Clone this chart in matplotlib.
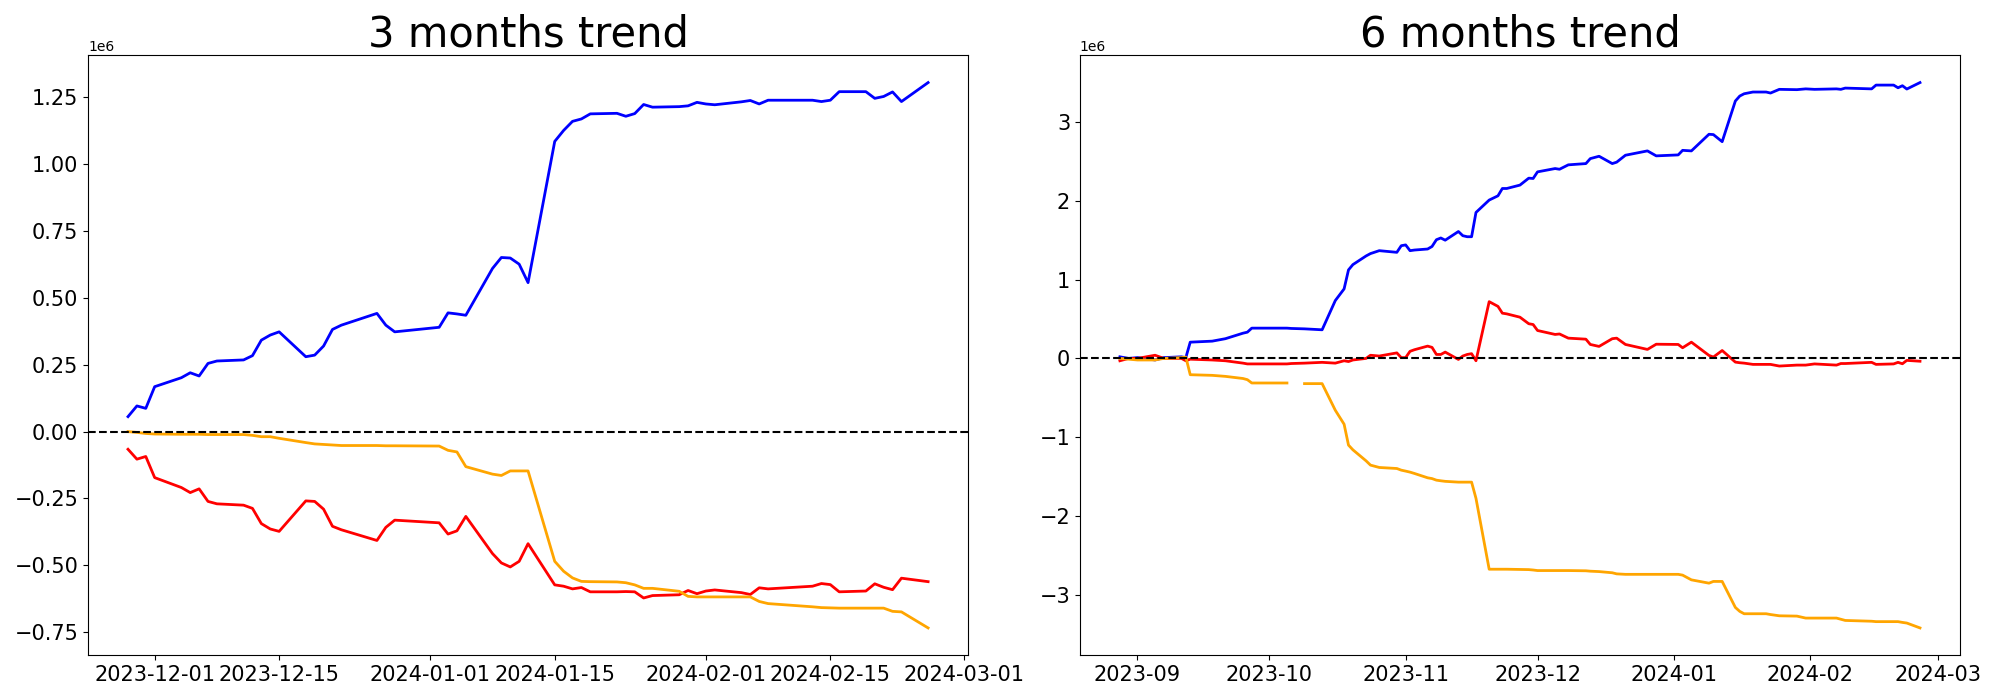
import numpy as np
import pandas as pd
import matplotlib
matplotlib.use("Agg")
import matplotlib.pyplot as plt

# ---- 3 months ----
dates_3m = pd.to_datetime([
    "2023-11-28", "2023-11-29", "2023-11-30",
    "2023-12-01", "2023-12-04", "2023-12-05", "2023-12-06", "2023-12-07", "2023-12-08",
    "2023-12-11", "2023-12-12", "2023-12-13", "2023-12-14", "2023-12-15",
    "2023-12-18", "2023-12-19", "2023-12-20", "2023-12-21", "2023-12-22",
    "2023-12-26", "2023-12-27", "2023-12-28",
    "2024-01-02", "2024-01-03", "2024-01-04", "2024-01-05",
    "2024-01-08", "2024-01-09", "2024-01-10", "2024-01-11", "2024-01-12",
    "2024-01-15", "2024-01-16", "2024-01-17", "2024-01-18", "2024-01-19",
    "2024-01-22", "2024-01-23", "2024-01-24", "2024-01-25", "2024-01-26",
    "2024-01-29", "2024-01-30", "2024-01-31", "2024-02-01", "2024-02-02",
    "2024-02-05", "2024-02-06", "2024-02-07", "2024-02-08",
    "2024-02-13", "2024-02-14", "2024-02-15", "2024-02-16",
    "2024-02-19", "2024-02-20", "2024-02-21", "2024-02-22", "2024-02-23",
    "2024-02-26",
])
blue_3m = [0.056, 0.096, 0.087,
           0.168, 0.2015, 0.22, 0.208, 0.255, 0.264, 0.268, 0.284, 0.342, 0.361, 0.373,
           0.28, 0.286, 0.32, 0.382, 0.398, 0.442, 0.398, 0.373,
           0.39, 0.444, 0.44, 0.435, 0.61, 0.651, 0.649, 0.626, 0.557,
           1.085, 1.126, 1.16, 1.169, 1.188, 1.19, 1.179, 1.189, 1.223, 1.213,
           1.215, 1.218, 1.231,
           1.225, 1.222, 1.233, 1.238, 1.225, 1.239, 1.239, 1.234, 1.239, 1.271,
           1.271, 1.246, 1.253, 1.27, 1.234, 1.305]
red_3m = [-0.066, -0.103, -0.093,
          -0.172, -0.209, -0.228, -0.214, -0.261, -0.27, -0.275, -0.287, -0.344, -0.364, -0.373,
          -0.259, -0.261, -0.29, -0.354, -0.367, -0.407, -0.358, -0.331,
          -0.341, -0.383, -0.371, -0.317, -0.456, -0.491, -0.506, -0.485, -0.419,
          -0.573, -0.578, -0.588, -0.583, -0.599, -0.599, -0.598, -0.599, -0.622, -0.613,
          -0.61, -0.594, -0.606,
          -0.596, -0.592, -0.602, -0.609, -0.584, -0.588, -0.578, -0.568, -0.572, -0.599,
          -0.596, -0.569, -0.582, -0.591, -0.548, -0.561]
orange_3m = [0.0, -0.003, -0.007,
             -0.009, -0.010, -0.010, -0.010, -0.011, -0.011, -0.011, -0.014, -0.019, -0.019, -0.025,
             -0.041, -0.046, -0.048, -0.050, -0.052, -0.052, -0.053, -0.053,
             -0.054, -0.07, -0.076, -0.131, -0.159, -0.164, -0.147, -0.147, -0.147,
             -0.485, -0.522, -0.547, -0.56, -0.561, -0.562, -0.565, -0.573, -0.586, -0.586,
             -0.597, -0.616, -0.618,
             -0.618, -0.618, -0.618, -0.618, -0.635, -0.643, -0.655, -0.658, -0.659, -0.66,
             -0.66, -0.66, -0.66, -0.672, -0.674, -0.734]

# ---- 6 months ----
dates_6m = pd.to_datetime([
    "2023-08-28", "2023-08-30", "2023-09-01", "2023-09-05", "2023-09-07",
    "2023-09-11", "2023-09-12", "2023-09-13", "2023-09-18", "2023-09-21",
    "2023-09-25", "2023-09-26", "2023-09-27", "2023-10-05", "2023-10-06",
    "2023-10-09", "2023-10-13", "2023-10-16", "2023-10-18", "2023-10-19",
    "2023-10-20", "2023-10-23", "2023-10-24", "2023-10-26", "2023-10-30",
    "2023-10-31", "2023-11-01", "2023-11-02", "2023-11-03", "2023-11-06",
    "2023-11-07", "2023-11-08", "2023-11-09", "2023-11-10", "2023-11-13",
    "2023-11-14", "2023-11-15", "2023-11-16", "2023-11-17", "2023-11-20",
    "2023-11-22", "2023-11-23", "2023-11-24", "2023-11-27", "2023-11-29",
    "2023-11-30", "2023-12-01", "2023-12-05", "2023-12-06", "2023-12-08",
    "2023-12-12", "2023-12-13", "2023-12-15", "2023-12-18", "2023-12-19",
    "2023-12-21", "2023-12-26", "2023-12-28", "2024-01-02", "2024-01-03",
    "2024-01-05", "2024-01-09", "2024-01-10", "2024-01-12", "2024-01-15",
    "2024-01-16", "2024-01-17", "2024-01-19", "2024-01-22", "2024-01-23",
    "2024-01-25", "2024-01-29", "2024-01-31", "2024-02-02", "2024-02-07",
    "2024-02-08", "2024-02-09", "2024-02-15", "2024-02-16", "2024-02-20",
    "2024-02-21", "2024-02-22", "2024-02-23", "2024-02-26",
])
blue_6m = [0.02, 0.0, 0.01, -0.02, 0.01,
           0.02, 0.01, 0.206, 0.219, 0.25,
           0.32, 0.333, 0.384, 0.384, 0.38,
           0.375, 0.363, 0.734, 0.882, 1.123,
           1.19, 1.30, 1.33, 1.367, 1.346,
           1.43, 1.44, 1.367, 1.375, 1.388,
           1.42, 1.506, 1.528, 1.50, 1.61,
           1.557, 1.544, 1.544, 1.852, 2.009,
           2.063, 2.156, 2.156, 2.199, 2.287,
           2.283, 2.367, 2.409, 2.40, 2.456,
           2.472, 2.535, 2.565, 2.472, 2.49,
           2.578, 2.633, 2.57, 2.582, 2.64,
           2.633, 2.844, 2.84, 2.75, 3.266,
           3.329, 3.358, 3.38, 3.38, 3.367,
           3.414, 3.41, 3.42, 3.414, 3.42,
           3.414, 3.43, 3.42, 3.468, 3.468,
           3.434, 3.46, 3.418, 3.5]
red_6m = [-0.03, 0.0, 0.0, 0.04, 0.0,
          0.0, -0.03, -0.01, -0.02, -0.03,
          -0.06, -0.07, -0.07, -0.07, -0.065,
          -0.06, -0.05, -0.06, -0.03, -0.04,
          -0.02, 0.0, 0.04, 0.03, 0.07,
          0.01, 0.01, 0.09, 0.11, 0.156,
          0.14, 0.05, 0.05, 0.08, -0.013,
          0.03, 0.05, 0.06, -0.03, 0.72,
          0.66, 0.574, 0.565, 0.523, 0.44,
          0.43, 0.354, 0.304, 0.31, 0.257,
          0.244, 0.177, 0.152, 0.25, 0.257,
          0.177, 0.114, 0.18, 0.177, 0.135,
          0.206, 0.038, 0.017, 0.10, -0.047,
          -0.055, -0.06, -0.076, -0.076, -0.076,
          -0.097, -0.085, -0.085, -0.07, -0.085,
          -0.065, -0.065, -0.05, -0.076, -0.07,
          -0.05, -0.068, -0.025, -0.036]
orange_6m = [0.0, -0.01, -0.02, -0.02, 0.0,
             0.01, 0.017, -0.207, -0.215, -0.228,
             -0.255, -0.27, -0.312, -0.312, np.nan,
             -0.32, -0.32, -0.658, -0.835, -1.10,
             -1.16, -1.30, -1.354, -1.384, -1.397,
             -1.418, -1.43, -1.443, -1.46, -1.515,
             -1.525, -1.545, -1.553, -1.56, -1.57,
             -1.57, -1.57, -1.57, -1.776, -2.675,
             -2.675, -2.675, -2.675, -2.678, -2.68,
             -2.685, -2.692, -2.692, -2.692, -2.692,
             -2.695, -2.70, -2.705, -2.72, -2.734,
             -2.74, -2.74, -2.74, -2.74, -2.75,
             -2.81, -2.852, -2.83, -2.83, -3.16,
             -3.21, -3.24, -3.24, -3.24, -3.25,
             -3.266, -3.27, -3.295, -3.295, -3.295,
             -3.31, -3.325, -3.335, -3.34, -3.34,
             -3.34, -3.35, -3.358, -3.42]

panels = [
    ("3 months trend", dates_3m, blue_3m, red_3m, orange_3m),
    ("6 months trend", dates_6m, blue_6m, red_6m, orange_6m),
]

fig, axes = plt.subplots(1, 2, figsize=(20, 7), dpi=100)
for ax, (title, d, b, r, o) in zip(axes, panels):
    ax.plot(d, np.array(b) * 1e6, color="blue", lw=2)
    ax.plot(d, np.array(r) * 1e6, color="red", lw=2)
    ax.plot(d, np.array(o) * 1e6, color="orange", lw=2)
    ax.axhline(0, color="black", linestyle="--", lw=1.5)
    ax.set_title(title, fontsize=30)
    ax.tick_params(labelsize=15)

plt.subplots_adjust(left=0.044, right=0.98, bottom=0.064, top=0.921, wspace=0.127)
plt.savefig("out.png")
